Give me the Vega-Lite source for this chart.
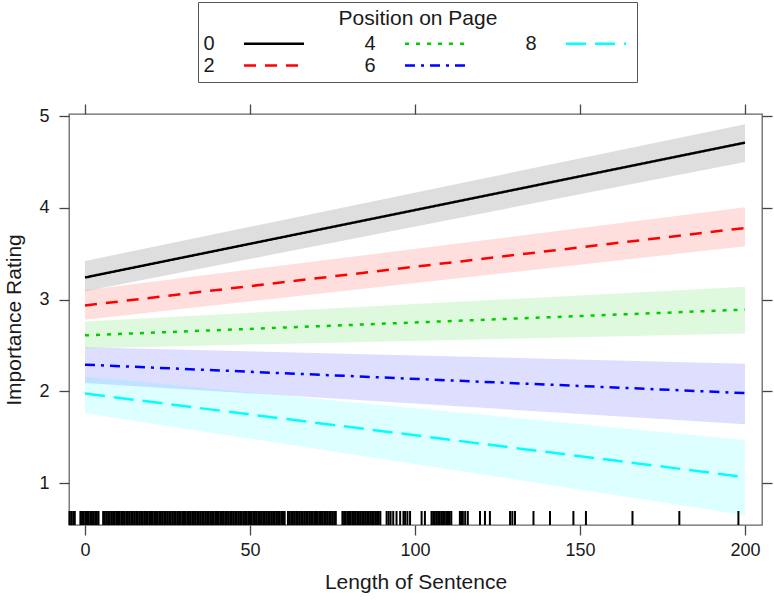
{
  "$schema": "https://vega.github.io/schema/vega-lite/v6.json",
  "width": 693,
  "height": 411,
  "autosize": "none",
  "padding": {"left": 69, "top": 114, "right": 12, "bottom": 75},
  "background": "white",
  "config": {
    "font": "Liberation Sans",
    "view": {"stroke": "#666666", "strokeWidth": 1.3},
    "axis": {
      "domain": false,
      "grid": false,
      "tickColor": "#444444",
      "tickWidth": 1.3,
      "tickSize": 10,
      "labelFontSize": 18,
      "labelColor": "#1a1a1a",
      "labelFlush": false,
      "labelOverlap": false,
      "titleFontSize": 21,
      "titleFontWeight": "normal",
      "titleColor": "#1a1a1a"
    },
    "legend": {
      "orient": "none", "legendX": 129, "legendY": -112,
      "columns": 3, "symbolType": "M-3,0H3", "symbolSize": 400, "symbolStrokeWidth": 2.5,
      "labelFontSize": 20, "titleFontSize": 21, "titleFontWeight": "normal", "titleAnchor": "middle",
      "titleColor": "#1a1a1a", "labelColor": "#1a1a1a",
      "padding": 6, "strokeColor": "#555555", "fillColor": "white",
      "columnPadding": 55, "rowPadding": -2, "symbolOffset": 58.5, "labelOffset": -82, "titlePadding": 3
    }
  },
  "datasets": {
    "fits": [
      {"pos": "0", "length": 0, "fit": 3.24, "lo": 3.09, "hi": 3.42},
      {"pos": "0", "length": 200, "fit": 4.71, "lo": 4.5, "hi": 4.91},
      {"pos": "2", "length": 0, "fit": 2.935, "lo": 2.78, "hi": 3.1},
      {"pos": "2", "length": 200, "fit": 3.78, "lo": 3.58, "hi": 4.005},
      {"pos": "4", "length": 0, "fit": 2.61, "lo": 2.47, "hi": 2.76},
      {"pos": "4", "length": 200, "fit": 2.89, "lo": 2.63, "hi": 3.14},
      {"pos": "6", "length": 0, "fit": 2.29, "lo": 2.09, "hi": 2.48},
      {"pos": "6", "length": 200, "fit": 1.98, "lo": 1.64, "hi": 2.3},
      {"pos": "8", "length": 0, "fit": 1.975, "lo": 1.76, "hi": 2.16},
      {"pos": "8", "length": 200, "fit": 1.065, "lo": 0.65, "hi": 1.47}
    ],
    "rug": [-4.7,-4.2,-3.6,-3.1,-1.4,-0.9,-0.4,0.1,0.6,1.1,1.6,2.1,2.6,3.1,3.6,4.1,
      5.5,6,6.5,7,7.5,8,8.5,9,9.5,10,10.5,11,11.5,12,12.5,13,13.5,14,14.5,15,15.5,16,16.5,17,17.5,18,18.5,19,19.5,20,20.5,21,21.5,22,22.5,23,23.5,24,24.5,25,25.5,26,26.5,27,27.5,28,28.5,29,29.5,30,30.5,31,31.5,32,32.5,33,33.5,34,34.5,35,35.5,36,36.5,37,37.5,38,38.5,39,39.5,40,40.5,41,41.5,42,42.5,43,43.5,44,44.5,45,45.5,46,46.5,47,47.5,48,48.5,49,49.5,50,50.5,51,51.5,52,52.5,53,53.5,54,54.5,55,55.5,56,56.5,57,57.5,58,58.5,59,59.5,60,60.5,
      61.5,62,62.5,63,63.5,64,64.5,65,65.5,66,66.5,67,67.5,68,68.5,69,69.5,70,70.5,71,71.5,72,72.5,73,73.5,74,74.5,75,75.5,76,
      78,78.5,79,79.5,80,80.5,81,81.5,82,82.5,83,83.5,84,84.5,85,85.5,86,86.5,87,87.5,88,88.5,89,89.5,
      91.4,92,92.6,93.4,94.4,95.5,96.5,97,97.7,98.5,102,103,105,105.5,106,106.5,107,107.5,108,108.5,109,109.5,110,110.5,111,113.6,114,114.5,115.2,116,119.7,121.2,122.7,128.8,129.5,130.3,135.9,140.9,148,151.8,165.9,180.1,198]
  },
  "layer": [
    {
      "data": {"name": "fits"},
      "mark": {"type": "area", "fillOpacity": 0.13},
      "encoding": {
        "x": {
          "field": "length", "type": "quantitative",
          "scale": {"domain": [-4.85, 205.15], "nice": false, "zero": false},
          "axis": {"orient": "bottom", "values": [0, 50, 100, 150, 200], "labelPadding": 6, "title": "Length of Sentence", "titlePadding": 12}
        },
        "y": {
          "field": "lo", "type": "quantitative",
          "scale": {"domain": [0.5425, 5.022], "nice": false, "zero": false},
          "axis": {"orient": "left", "values": [1, 2, 3, 4, 5], "labelPadding": 10, "title": "Importance Rating", "titlePadding": 14}
        },
        "y2": {"field": "hi"},
        "fill": {
          "field": "pos", "type": "nominal",
          "scale": {"domain": ["8", "6", "4", "2", "0"], "range": ["#00FFFF", "#0000FF", "#00CD00", "#FF0000", "#000000"]},
          "legend": null
        }
      }
    },
    {
      "data": {"name": "fits"},
      "mark": {"type": "line", "strokeWidth": 2.5, "strokeCap": "butt"},
      "encoding": {
        "x": {
          "field": "length", "type": "quantitative",
          "axis": {"orient": "top", "values": [0, 50, 100, 150, 200], "labels": false, "title": null}
        },
        "y": {
          "field": "fit", "type": "quantitative",
          "axis": {"orient": "right", "values": [1, 2, 3, 4, 5], "labels": false, "title": null}
        },
        "stroke": {
          "field": "pos", "type": "nominal",
          "scale": {"domain": ["0", "2", "4", "6", "8"], "range": ["#000000", "#FF0000", "#00CD00", "#0000FF", "#00FFFF"]},
          "legend": {"title": "Position on Page"}
        },
        "strokeDash": {
          "field": "pos", "type": "nominal",
          "scale": {"domain": ["0", "2", "4", "6", "8"], "range": [[1, 0], [12, 9], [4, 7], [10, 6, 3, 6], [20, 9]]},
          "legend": {"title": "Position on Page"}
        }
      }
    },
    {
      "data": {"name": "rug"},
      "mark": {"type": "rule", "strokeWidth": 2, "color": "#000000"},
      "encoding": {
        "x": {"field": "data", "type": "quantitative", "axis": null},
        "y": {"datum": 0.5425, "type": "quantitative", "axis": null},
        "y2": {"datum": 0.695}
      }
    }
  ],
  "resolve": {"axis": {"x": "independent", "y": "independent"}}
}
